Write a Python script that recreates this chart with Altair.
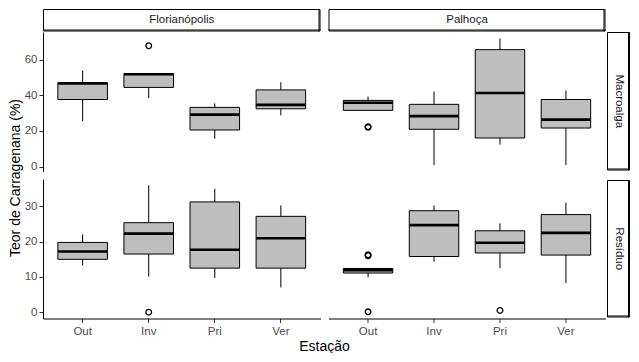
import altair as alt
import pandas as pd

seasons = ["Out", "Inv", "Pri", "Ver"]

# Florianópolis - Macroalga
flo_mac_lo = [25.4, 38.4, 15.6, 28.7]
flo_mac_q1 = [37.6, 44.4, 20.5, 32.4]
flo_mac_med = [46.6, 51.8, 29.1, 34.6]
flo_mac_q3 = [47.1, 52.2, 33.2, 43.0]
flo_mac_hi = [53.9, 52.2, 35.4, 47.3]
flo_mac_out_season = ["Inv"]
flo_mac_out_value = [67.8]

# Palhoça - Macroalga
pal_mac_lo = [31.5, 0.8, 12.3, 0.8]
pal_mac_q1 = [31.5, 20.9, 16.0, 21.6]
pal_mac_med = [35.8, 28.3, 41.3, 26.3]
pal_mac_q3 = [37.1, 34.9, 65.6, 37.6]
pal_mac_hi = [39.3, 42.1, 71.9, 42.7]
pal_mac_out_season = ["Out", "Out"]
pal_mac_out_value = [22.0, 22.4]

# Florianópolis - Resíduo
flo_res_lo = [13.2, 10.1, 9.7, 7.0]
flo_res_q1 = [15.0, 16.5, 12.5, 12.5]
flo_res_med = [17.2, 22.3, 17.7, 21.0]
flo_res_q3 = [19.8, 25.4, 31.3, 27.2]
flo_res_hi = [22.1, 36.0, 35.0, 30.3]
flo_res_out_season = ["Inv"]
flo_res_out_value = [0.0]

# Palhoça - Resíduo
pal_res_lo = [9.9, 14.3, 12.5, 8.3]
pal_res_q1 = [11.1, 15.8, 16.8, 16.2]
pal_res_med = [11.9, 24.7, 19.7, 22.5]
pal_res_q3 = [12.4, 28.8, 23.1, 27.7]
pal_res_hi = [12.4, 30.3, 25.2, 31.1]
pal_res_out_season = ["Out", "Out", "Out", "Pri"]
pal_res_out_value = [16.0, 16.3, 0.1, 0.5]

mac_domain = [-2.8, 75.5]
mac_ticks = [0, 20, 40, 60]
res_domain = [-1.8, 37.8]
res_ticks = [0, 10, 20, 30]

FONT = "Liberation Sans"
PW_L = 277.5
PW_R = 277
PH = 139.5
COL_GAP = 7.5
ROW_GAP = 7


def panel(lo, q1, med, q3, hi, out_s, out_v, domain, ticks, width,
          show_y, show_x, y_title=None, x_title=None):
    df = pd.DataFrame({"season": seasons, "lo": lo, "q1": q1, "med": med,
                       "q3": q3, "hi": hi})
    odf = pd.DataFrame({"season": out_s, "val": out_v})
    if show_x:
        kw = dict(title=x_title, labelFont=FONT, labelFontSize=11.5,
                  labelColor="#4D4D4D", tickColor="#333333", tickSize=4,
                  domainColor="black", domainWidth=1, labelPadding=3,
                  titleFont=FONT, titleFontSize=14, titleColor="black",
                  titleFontWeight="normal", titlePadding=2,
                  labelAngle=0, grid=False)
        if x_title:
            kw["titleX"] = 281
        xaxis = alt.Axis(**kw)
    else:
        xaxis = None
    if show_y:
        kw = dict(values=ticks, title=y_title, labelFont=FONT,
                  labelFontSize=11.5, labelColor="#4D4D4D",
                  tickColor="#333333", tickSize=4, domainColor="black",
                  domainWidth=1, labelPadding=2, titleFont=FONT,
                  titleFontSize=14, titleColor="black",
                  titleFontWeight="normal", titlePadding=2, grid=False)
        if y_title:
            kw["titleY"] = 145.5
        yaxis = alt.Axis(**kw)
    else:
        yaxis = None
    xs = alt.Scale(type="band", domain=seasons, paddingInner=0.25,
                   paddingOuter=0.225)
    ys = alt.Scale(domain=domain, nice=False, zero=False)
    X = alt.X("season:N", scale=xs, axis=xaxis, sort=seasons)
    base = alt.Chart(df)
    whisk = base.mark_rule(color="black", strokeWidth=1).encode(
        x=X, y=alt.Y("lo:Q", scale=ys, axis=yaxis), y2="hi:Q")
    box = base.mark_bar(fill="#BEBEBE", stroke="black", strokeWidth=1).encode(
        x=X, y=alt.Y("q1:Q", scale=ys, axis=yaxis), y2="q3:Q")
    medl = base.mark_tick(color="black", thickness=2.6, size=49.5, opacity=1).encode(
        x=X, y=alt.Y("med:Q", scale=ys, axis=yaxis))
    outs = alt.Chart(odf).mark_point(shape="circle", filled=False, color="black",
                                     strokeWidth=1.3, size=32, opacity=1).encode(
        x=X, y=alt.Y("val:Q", scale=ys, axis=yaxis))
    return alt.layer(whisk, box, medl, outs).properties(width=width, height=PH)


def strip(label, x0, x1, y0, y1, w, h, vertical=False):
    d = pd.DataFrame({"label": [label]})
    b = alt.Chart(d)
    rect = b.mark_rect(fill="white", stroke="black", strokeWidth=1).encode(
        x=alt.value(x0 + 0.5), x2=alt.value(x1 - 0.5),
        y=alt.value(y0 + 0.5), y2=alt.value(y1 - 0.5))
    r1 = b.mark_rule(color="black", strokeWidth=1).encode(
        x=alt.value(x1 - 1.5), y=alt.value(y0), y2=alt.value(y1))
    r2 = b.mark_rule(color="black", strokeWidth=1).encode(
        x=alt.value(x0), x2=alt.value(x1), y=alt.value(y1 - 1.5))
    txt = b.mark_text(font=FONT, fontSize=11.5, color="#1A1A1A",
                      angle=90 if vertical else 0, baseline="middle",
                      align="center").encode(
        x=alt.value((x0 + x1) / 2), y=alt.value((y0 + y1) / 2), text="label:N")
    return alt.layer(rect, r1, r2, txt).properties(width=w, height=h)


STRIP_H = 22.5
RS_W = 17  # right strip column width (rect pulled left into the gap)

s_flo = strip("Florianópolis", 0, PW_L, 0, STRIP_H, PW_L, STRIP_H - ROW_GAP)
s_pal = strip("Palhoça", 0, PW_R, 0, STRIP_H, PW_R, STRIP_H - ROW_GAP)
s_mac = strip("Macroalga", -6, RS_W, 0, PH - 1, RS_W, PH, vertical=True)
s_res = strip("Resíduo", -6, RS_W, 1, PH - 1, RS_W, PH, vertical=True)
blank = alt.Chart(pd.DataFrame({"a": [0]})).mark_rect(opacity=0).encode(
    x=alt.value(1), x2=alt.value(2), y=alt.value(1), y2=alt.value(2)
).properties(width=RS_W, height=STRIP_H - ROW_GAP)

p_fm = panel(flo_mac_lo, flo_mac_q1, flo_mac_med, flo_mac_q3, flo_mac_hi,
             flo_mac_out_season, flo_mac_out_value, mac_domain, mac_ticks, PW_L,
             True, False, y_title="Teor de Carragenana (%)")
p_pm = panel(pal_mac_lo, pal_mac_q1, pal_mac_med, pal_mac_q3, pal_mac_hi,
             pal_mac_out_season, pal_mac_out_value, mac_domain, mac_ticks, PW_R,
             False, False)
p_fr = panel(flo_res_lo, flo_res_q1, flo_res_med, flo_res_q3, flo_res_hi,
             flo_res_out_season, flo_res_out_value, res_domain, res_ticks, PW_L,
             True, True, x_title="Estação")
p_pr = panel(pal_res_lo, pal_res_q1, pal_res_med, pal_res_q3, pal_res_hi,
             pal_res_out_season, pal_res_out_value, res_domain, res_ticks, PW_R,
             False, True)

chart = alt.concat(
    s_flo, s_pal, blank,
    p_fm, p_pm, s_mac,
    p_fr, p_pr, s_res,
    columns=3,
    spacing={"row": ROW_GAP, "column": COL_GAP},
    bounds="flush",
).properties(
    padding={"left": 0, "top": 0, "right": 0, "bottom": 0}
).configure(background="white").configure_view(stroke="transparent", strokeWidth=0)

chart.save("out.html", embed_options={"renderer": "svg", "actions": False})
